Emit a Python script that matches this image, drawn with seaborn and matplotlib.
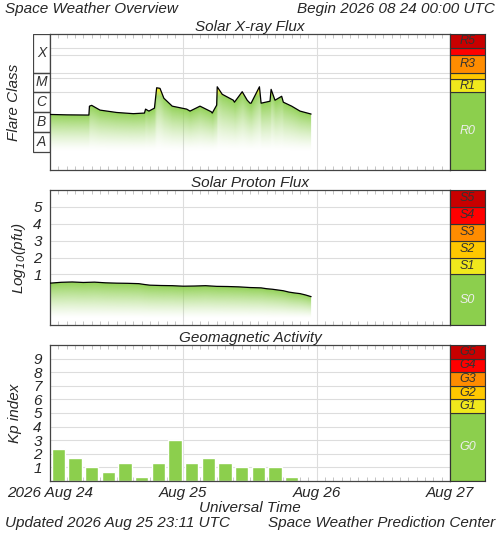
import numpy as np
import matplotlib
matplotlib.use("Agg")
import matplotlib.pyplot as plt
import seaborn as sns

# ---- data ----
xray_hours = [0, 3, 7.0, 7.1, 7.5, 9, 12, 15, 17.0, 17.2, 17.8, 18.8, 19.2, 19.8, 20.5, 22, 24.6, 25.2, 27, 29.0, 29.2,
              30.0, 30.1, 31.0, 33.0, 33.2, 34.6, 35.5, 36.0, 36.2, 37.7, 38.0, 39.6, 39.8, 40.5, 41.7, 42.0, 43.5, 45, 47]
xray_log = [-6.12, -6.14, -6.15, -5.70, -5.66, -5.90, -6.02, -6.08, -6.05, -5.85, -5.95, -5.80, -4.77, -4.80, -5.30, -5.70,
            -5.85, -5.95, -5.70, -5.98, -6.05, -5.65, -4.72, -5.10, -5.40, -5.50, -4.97, -5.40, -5.55, -5.55, -4.72, -5.55,
            -5.45, -4.85, -5.40, -5.20, -5.50, -5.70, -5.95, -6.10]
proton_hours = [0, 2, 4, 6, 8, 10, 12, 14, 16, 17, 18, 20, 22, 24, 26, 28, 30, 32, 34, 36, 38, 39, 40, 42, 43, 44, 45, 46, 47]
proton_log = [0.48, 0.53, 0.55, 0.52, 0.54, 0.50, 0.48, 0.47, 0.45, 0.40, 0.36, 0.34, 0.33, 0.30, 0.31, 0.33, 0.29, 0.28,
              0.26, 0.22, 0.20, 0.15, 0.12, 0.03, -0.05, -0.10, -0.14, -0.22, -0.32]
kp_values = [2.33, 1.67, 1.0, 0.67, 1.33, 0.33, 1.33, 3.0, 1.33, 1.67, 1.33, 1.0, 1.0, 1.0, 0.33]
day_labels = ["2026 Aug 24", "Aug 25", "Aug 26", "Aug 27"]
flare_classes = ["A", "B", "C", "M", "X"]
r_scale = ["R0", "R1", "", "R3", "", "R5"]
s_scale = ["S0", "S1", "S2", "S3", "S4", "S5"]
g_scale = ["G0", "G1", "G2", "G3", "G4", "G5"]

sns.set_style("white")
plt.rcParams['font.family'] = ['Liberation Sans', 'DejaVu Sans']
plt.rcParams['font.style'] = 'italic'

GREEN = "#8ccf4d"
scale_colors = [GREEN, "#f0e81c", "#ffc800", "#ff8c00", "#ff0000", "#c80000"]

fig = plt.figure(figsize=(5.0, 5.33), dpi=100)
W, H = 500, 533
def ax_px(x0, y0, x1, y1):
    return fig.add_axes([x0 / W, 1 - y1 / H, (x1 - x0) / W, (y1 - y0) / H])

def style_main(ax, show_xlabels):
    ax.set_xlim(0, 72)
    ax.set_xticks([0, 24, 48, 72])
    ax.xaxis.grid(True, color="#dddddd", lw=0.8)
    ax.yaxis.grid(True, color="#dddddd", lw=0.8)
    ax.set_axisbelow(True)
    for s in ax.spines.values():
        s.set_color("#444444"); s.set_linewidth(0.9)
    ax.tick_params(axis="x", which="both", direction="in", top=True, bottom=True, length=0, color="#bbbbbb")
    ax.set_xticks(np.arange(0, 73, 1.5), minor=True)
    ax.tick_params(axis="x", which="minor", length=3, color="#bbbbbb")
    if show_xlabels:
        ax.set_xticklabels(day_labels, fontsize=11)
        ax.set_xlabel("Universal Time", fontsize=11, labelpad=1)
    else:
        ax.set_xticklabels([])

def gradient_fill(ax, x, y, ybot, yfade, yellow_from=None, power=1.3):
    x = np.asarray(x, float); y = np.asarray(y, float)
    poly = ax.fill_between(x, y, ybot, color="none", lw=0)
    nx, ny = 800, 400
    xs = np.linspace(x[0], x[-1], nx)
    ys = np.linspace(ybot, y.max() + 0.05, ny)
    line = np.interp(xs, x, y)
    Y = ys[:, None]
    a = np.clip((Y - yfade) / (line[None, :] - yfade), 0, 1) ** power * 0.95
    g = np.array(matplotlib.colors.to_rgb(GREEN))
    yel = np.array(matplotlib.colors.to_rgb("#f0e81c"))
    img = np.zeros((ny, nx, 4))
    t = np.zeros((ny, nx))
    if yellow_from is not None:
        t = np.clip((Y - yellow_from) / 0.35, 0, 1) * np.ones((1, nx))
    img[..., :3] = g * (1 - t[..., None]) + yel * t[..., None]
    img[..., 3] = a
    im = ax.imshow(img, aspect="auto", origin="lower", extent=[x[0], x[-1], ys[0], ys[-1]], zorder=1,
                   interpolation="bilinear")
    im.set_clip_path(poly.get_paths()[0], transform=ax.transData)

def scale_bar(y0, y1, bounds, labels, ylim):
    sax = ax_px(450, y0, 485, y1)
    sax.set_ylim(*ylim); sax.set_xlim(0, 1)
    for (a, b), lab, col in zip(bounds, labels, scale_colors):
        sax.axhspan(a, b, color=col, ec="#333333", lw=0.8)
        tc = "#eeeeee" if lab.endswith("0") else "#333333"
        if lab:
            sax.text(0.5, (a + b) / 2, lab, ha="center", va="center", fontsize=9, color=tc)
    sax.set_xticks([]); sax.set_yticks([])
    for s in sax.spines.values():
        s.set_color("#333333")
    return sax

# ---- X-ray ----
YX = (-8.93, -2.05)
ax1 = ax_px(50, 34, 450, 170)
ax1.set_ylim(*YX)
gradient_fill(ax1, xray_hours, xray_log, YX[0], -8.0, yellow_from=-5.25, power=1.4)
sns.lineplot(x=xray_hours, y=xray_log, ax=ax1, color="black", lw=0.9, zorder=3, sort=False)
ax1.set_yticks([-5, -4.3, -4, -3.1, -2.75])
ax1.set_yticklabels([])
ax1.tick_params(axis="y", length=0)
ax1.set_ylabel("")
style_main(ax1, False)
ax1.set_title("Solar X-ray Flux", fontsize=11, pad=2)
fax = ax_px(33, 34, 50, 170)
fax.set_ylim(*YX); fax.set_xlim(0, 1); fax.axis("off")
fb = [(-8, -7), (-7, -6), (-6, -5), (-5, -4), (-4, -2.05)]
for (a, b), lab in zip(fb, flare_classes):
    fax.add_patch(plt.Rectangle((0, a), 1, b - a, fill=False, ec="#444444", lw=0.9))
    yc = (a + b) / 2 if lab != "X" else -3.0
    fax.text(0.5, yc, lab, ha="center", va="center", fontsize=10, color="#333333")
fig.text(14 / W, 1 - 102 / H, "Flare Class", rotation=90, ha="center", va="center", fontsize=11)
scale_bar(34, 170, [(-8.93, -5), (-5, -4.32), (-4.32, -4), (-4, -3.1), (-3.1, -2.75), (-2.75, -2.05)], r_scale, YX)

# ---- Proton ----
ax2 = ax_px(50, 190, 450, 325)
ax2.set_ylim(-2, 6)
gradient_fill(ax2, proton_hours, proton_log, -2, -1.6, power=1.3)
sns.lineplot(x=proton_hours, y=proton_log, ax=ax2, color="black", lw=0.9, zorder=3)
ax2.set_yticks([1, 2, 3, 4, 5])
ax2.set_yticklabels(["1", "2", "3", "4", "5"], fontsize=11)
ax2.tick_params(axis="y", length=0, pad=6)
ax2.set_ylabel("Log$_{10}$(pfu)", fontsize=11, labelpad=4)
style_main(ax2, False)
ax2.set_title("Solar Proton Flux", fontsize=11, pad=2)
scale_bar(190, 325, [(-2, 1), (1, 2), (2, 3), (3, 4), (4, 5), (5, 6)], s_scale, (-2, 6))

# ---- Kp ----
ax3 = ax_px(50, 345, 450, 481)
ax3.set_ylim(0, 10)
kp_t = np.arange(len(kp_values)) * 3 + 1.5
ax3.bar(kp_t, kp_values, width=2.4, color=GREEN, zorder=2)
ax3.set_yticks(range(1, 10))
ax3.set_yticklabels([str(i) for i in range(1, 10)], fontsize=11)
ax3.tick_params(axis="y", length=0, pad=6)
ax3.set_ylabel("Kp index", fontsize=11, labelpad=8)
style_main(ax3, True)
ax3.set_title("Geomagnetic Activity", fontsize=11, pad=2)
scale_bar(345, 481, [(0, 5), (5, 6), (6, 7), (7, 8), (8, 9), (9, 10)], g_scale, (0, 10))

fig.text(5 / W, 1 - 9 / H, "Space Weather Overview", fontsize=11, va="center")
fig.text(495 / W, 1 - 9 / H, "Begin 2026 08 24 00:00 UTC", fontsize=11, va="center", ha="right")
fig.text(5 / W, 1 - 523 / H, "Updated 2026 Aug 25 23:11 UTC", fontsize=11, va="center")
fig.text(495 / W, 1 - 523 / H, "Space Weather Prediction Center", fontsize=11, va="center", ha="right")

fig.savefig("out.png", dpi=100)
